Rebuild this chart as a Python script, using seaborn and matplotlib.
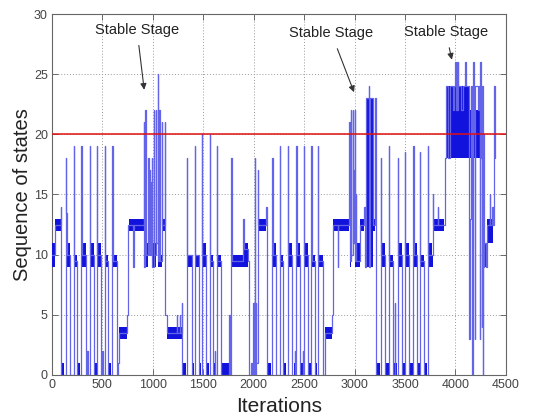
import matplotlib
matplotlib.use("Agg")
import matplotlib.pyplot as plt
import seaborn as sns
import pandas as pd

# ---------------- data ----------------
x_ticks = [0, 500, 1000, 1500, 2000, 2500, 3000, 3500, 4000, 4500]
y_ticks = [0, 5, 10, 15, 20, 25, 30]
threshold = 20
x_label = "Iterations"
y_label = "Sequence of states"
annotation_text = ["Stable Stage", "Stable Stage", "Stable Stage"]
annotation_text_xy = [(842, 28.7), (2770, 28.4), (3905, 28.5)]
annotation_tip_xy = [(914, 23.7), (2995, 23.5), (3965, 26.2)]

# state path, vertex by vertex (iteration, state)
seg_a = [(0, 10), (25, 10), (25, 12.5), (85, 12.5), (85, 14), (90, 14), (90, 0), (138, 0), (138, 18),
         (142, 18), (142, 13.5), (146, 13.5), (146, 10), (182, 10), (182, 0), (215, 0), (215, 19), (219, 19),
         (219, 9.5), (246, 9.5), (246, 0), (290, 0), (290, 19), (294, 19), (294, 10), (335, 10), (335, 0),
         (350, 0), (350, 2), (355, 2), (355, 0), (372, 0), (372, 19), (376, 19), (376, 10), (418, 10),
         (418, 0), (446, 0), (446, 19), (450, 19), (450, 10), (484, 10), (484, 0), (500, 0), (500, 2),
         (504, 2), (504, 0), (522, 0), (522, 19), (526, 19), (526, 9.5), (556, 9.5), (556, 0), (596, 0),
         (596, 19), (600, 19), (600, 9.5), (640, 9.5), (640, 0), (655, 0), (655, 1), (660, 1), (660, 3.5),
         (745, 3.5), (745, 5), (758, 5), (758, 12.5), (805, 12.5), (805, 9), (810, 9), (810, 12.5),
         (912, 12.5)]
seg_b = [(912, 21), (916, 21), (916, 9), (922, 9), (922, 22), (927, 22), (927, 10), (954, 10),
         (954, 18), (958, 18), (958, 10), (965, 10), (965, 17), (970, 17), (970, 10), (976, 10), (976, 16),
         (980, 16), (980, 10), (990, 10), (990, 18), (994, 18), (994, 9), (1010, 9), (1010, 22),
         (1014, 22), (1014, 10), (1030, 10), (1030, 22), (1034, 22), (1034, 11), (1046, 11), (1046, 25),
         (1050, 25), (1050, 9.5), (1062, 9.5), (1062, 22), (1066, 22), (1066, 9.5), (1086, 9.5),
         (1086, 21), (1090, 21), (1090, 17), (1094, 17), (1094, 12.5), (1119, 12.5), (1119, 21),
         (1122, 21), (1122, 5)]
seg_c = [(1145, 5), (1145, 3.5), (1235, 3.5), (1235, 5), (1239, 5), (1239, 3.5), (1265, 3.5),
         (1265, 5), (1269, 5), (1269, 3.5), (1288, 3.5), (1288, 6), (1292, 6), (1292, 0), (1338, 0),
         (1338, 18), (1342, 18), (1342, 10), (1390, 10), (1390, 0), (1414, 0), (1414, 19), (1418, 19),
         (1418, 10), (1462, 10), (1462, 0), (1484, 0), (1484, 20), (1488, 20), (1488, 10), (1528, 10),
         (1528, 0), (1566, 0), (1566, 20), (1570, 20), (1570, 9.5), (1594, 9.5), (1594, 0), (1615, 0),
         (1615, 2), (1619, 2), (1619, 0), (1636, 0), (1636, 19), (1640, 19), (1640, 9.5), (1677, 9.5),
         (1677, 0), (1757, 0), (1757, 5), (1761, 5), (1761, 0), (1776, 0), (1776, 18), (1780, 18),
         (1780, 9.5), (1895, 9.5), (1895, 13), (1899, 13), (1899, 10.5), (1940, 10.5), (1940, 9.5),
         (1955, 9.5), (1955, 0)]
seg_d = [(1970, 0), (1970, 1), (1985, 1), (1985, 0), (1995, 0), (1995, 6), (1998, 6), (1998, 0),
         (2003, 0), (2003, 5), (2006, 5), (2006, 0), (2012, 0), (2012, 18), (2016, 18), (2016, 0),
         (2022, 0), (2022, 6), (2026, 6), (2026, 1), (2038, 1), (2038, 17), (2042, 17), (2042, 12.5),
         (2122, 12.5), (2122, 14), (2132, 14), (2132, 0)]
seg_e = [(2185, 0), (2185, 18), (2189, 18), (2189, 10), (2226, 10), (2226, 0), (2258, 0), (2258, 19),
         (2262, 19), (2262, 9.5), (2292, 9.5), (2292, 0), (2340, 0), (2340, 19), (2344, 19), (2344, 10),
         (2384, 10), (2384, 0), (2410, 0), (2410, 2), (2414, 2), (2414, 0), (2422, 0), (2422, 19),
         (2426, 19), (2426, 10), (2464, 10), (2464, 0), (2484, 0), (2484, 2), (2488, 2), (2488, 0),
         (2498, 0), (2498, 19), (2502, 19), (2502, 10), (2540, 10), (2540, 0), (2571, 0), (2571, 19),
         (2575, 19), (2575, 9.5), (2606, 9.5), (2606, 0), (2637, 0), (2637, 19), (2641, 19), (2641, 9.5),
         (2690, 9.5), (2690, 0), (2705, 0), (2705, 3.5), (2775, 3.5), (2775, 5), (2787, 5),
         (2787, 12.5), (2835, 12.5), (2835, 9), (2839, 9), (2839, 12.5), (2945, 12.5)]
seg_f = [(2948, 12.5), (2948, 21), (2952, 21), (2952, 9.5), (2960, 9.5), (2960, 22), (2964, 22),
         (2964, 18), (2968, 18), (2968, 10), (2980, 10), (2980, 22), (2985, 22), (2985, 11), (2992, 11),
         (2992, 17), (2995, 17), (2995, 11), (3002, 11), (3002, 22), (3006, 22), (3006, 9.5), (3012, 9.5),
         (3012, 15), (3015, 15), (3015, 9.5), (3050, 9.5), (3050, 12.5), (3096, 12.5), (3096, 14),
         (3106, 14), (3106, 9), (3116, 9), (3116, 23), (3140, 23), (3140, 24), (3145, 24), (3145, 9),
         (3150, 9), (3150, 23), (3180, 23), (3180, 12.5), (3205, 12.5), (3205, 23), (3211, 23), (3211, 0)]
seg_g = [(3259, 0), (3259, 18), (3263, 18), (3263, 10), (3304, 10), (3304, 0), (3341, 0), (3341, 19),
         (3345, 19), (3345, 9.5), (3380, 9.5), (3380, 0), (3400, 0), (3400, 6), (3404, 6), (3404, 0),
         (3427, 0), (3427, 18), (3431, 18), (3431, 10), (3469, 10), (3469, 0), (3500, 0), (3500, 18.5),
         (3504, 18.5), (3504, 10), (3535, 10), (3535, 0), (3582, 0), (3582, 19), (3586, 19), (3586, 10),
         (3624, 10), (3624, 0), (3648, 0), (3648, 18.5), (3652, 18.5), (3652, 9.5), (3690, 9.5),
         (3690, 0), (3724, 0), (3724, 19), (3728, 19), (3728, 10), (3776, 10), (3776, 15), (3780, 15),
         (3780, 12.5), (3823, 12.5), (3823, 14), (3827, 14), (3827, 12.5), (3895, 12.5), (3895, 18),
         (3905, 18)]
seg_h = [(3905, 24), (3930, 24), (3930, 18), (3950, 18), (3950, 24), (3975, 24), (3975, 22),
         (3990, 22), (3990, 24), (4000, 24), (4000, 26), (4004, 26), (4004, 22), (4012, 22), (4012, 26),
         (4016, 26), (4016, 22), (4024, 22), (4024, 26), (4028, 26), (4028, 24), (4060, 24), (4060, 22),
         (4080, 22), (4080, 24), (4100, 24), (4100, 26), (4106, 26), (4106, 24), (4130, 24), (4130, 22),
         (4139, 22), (4139, 3), (4145, 3), (4145, 13), (4150, 13), (4150, 24), (4165, 24), (4165, 0),
         (4172, 0), (4172, 26), (4180, 26), (4180, 20), (4190, 20), (4190, 3), (4196, 3), (4196, 24),
         (4220, 24), (4220, 22), (4230, 22), (4230, 24), (4240, 24), (4240, 3), (4246, 3), (4246, 26),
         (4254, 26), (4254, 18), (4262, 18), (4262, 4), (4266, 4), (4266, 24), (4270, 24), (4270, 0),
         (4276, 0), (4276, 20), (4285, 20), (4285, 9)]
seg_i = [(4285, 11), (4300, 11), (4300, 9), (4310, 9), (4310, 12.5), (4340, 12.5), (4340, 15),
         (4345, 15), (4345, 12.5), (4365, 12.5), (4365, 14), (4370, 14), (4370, 12.5), (4385, 12.5),
         (4385, 24), (4390, 24), (4390, 18)]

# dense (rapidly alternating) stretches: start, end, low state, high state
block_start = [0, 25, 95, 142, 222, 250, 297, 338, 378, 420, 452, 486, 528, 560, 602, 642, 662, 760,
               927, 994, 1050, 1094, 1145, 1296, 1342, 1392, 1418, 1464, 1488, 1531, 1570, 1597, 1640,
               1683, 1780, 1891, 2042, 2135, 2193, 2266, 2299, 2348, 2398, 2431, 2466, 2503, 2542, 2575,
               2608, 2645, 2710, 2787, 2952, 3008, 3050, 3116, 3182, 3221, 3263, 3306, 3345, 3383, 3436,
               3472, 3508, 3540, 3586, 3626, 3652, 3692, 3728, 3738, 3782, 3905, 3905, 4285, 4310]
block_end = [25, 85, 120, 182, 246, 280, 335, 368, 418, 444, 484, 510, 556, 582, 640, 655, 745, 910,
             954, 1030, 1086, 1119, 1288, 1330, 1390, 1412, 1462, 1482, 1528, 1561, 1594, 1627, 1677,
             1766, 1940, 1940, 2122, 2172, 2226, 2292, 2325, 2384, 2420, 2464, 2494, 2540, 2565, 2606,
             2632, 2688, 2775, 2945, 2966, 3050, 3096, 3180, 3205, 3257, 3304, 3338, 3380, 3420, 3469,
             3498, 3535, 3578, 3624, 3645, 3690, 3720, 3776, 3768, 3891, 4285, 4140, 4310, 4370]
block_lo = [9, 12, 0, 9, 9, 0, 9, 0, 9, 0, 9, 0, 9, 0, 9, 0, 3, 12,
            9, 9, 9, 12, 3, 0, 9, 0, 9, 0, 9, 0, 9, 0, 9,
            0, 9, 10, 12, 0, 9, 9, 0, 9, 0, 9, 0, 9, 0, 9,
            0, 9, 3, 12, 9, 9, 12, 9, 12, 0, 9, 0, 9, 0, 9,
            0, 9, 0, 9, 0, 9, 0, 9, 10, 12, 18, 22, 9, 11]
block_hi = [11, 13, 1, 11, 10, 1, 11, 1, 11, 1, 11, 1, 10, 1, 10, 1, 4, 13,
            11, 11, 10, 13, 4, 1, 10, 1, 10, 1, 11, 1, 10, 1, 10,
            1, 10, 11, 13, 1, 11, 10, 1, 11, 1, 11, 1, 11, 1, 10,
            1, 10, 4, 13, 11, 11, 13, 23, 13, 1, 11, 1, 10, 1, 11,
            1, 11, 1, 11, 1, 10, 1, 10, 11, 13, 22, 24, 11, 13]

# ---------------- drawing ----------------
sns.set_style("white")
plt.rcParams["font.family"] = ["Liberation Sans", "DejaVu Sans"]

vertices = seg_a + seg_b + seg_c + seg_d + seg_e + seg_f + seg_g + seg_h + seg_i
df = pd.DataFrame(vertices, columns=["iteration", "state"])

fig, ax = plt.subplots(figsize=(5.33, 4.18), dpi=100)
fig.subplots_adjust(left=0.0976, right=0.949, top=0.9665, bottom=0.1029)

line_col = "#6464e8"
dense_col = "#1212dd"

widths = [e - s for s, e in zip(block_start, block_end)]
heights = [h - l for l, h in zip(block_lo, block_hi)]
ax.bar(block_start, heights, width=widths, bottom=block_lo, align="edge",
       color=dense_col, linewidth=0, zorder=3)

sns.lineplot(data=df, x="iteration", y="state", sort=False, estimator=None,
             color=line_col, linewidth=0.9, ax=ax, zorder=4)

ax.axhline(threshold, color="#e01010", linewidth=1.1, zorder=5)

for txt, txy, tip in zip(annotation_text, annotation_text_xy, annotation_tip_xy):
    ax.annotate(txt, xy=tip, xytext=txy, ha="center", va="center", fontsize=10.5,
                color="#222222", zorder=6,
                arrowprops=dict(arrowstyle="-|>", color="#333333", lw=0.8,
                                mutation_scale=9, shrinkA=4, shrinkB=0))

ax.set_xlim(0, 4500)
ax.set_ylim(0, 30)
ax.set_xticks(x_ticks)
ax.set_yticks(y_ticks)
ax.set_xticklabels([str(v) for v in x_ticks], fontsize=9, color="#444444",
                   family=["Liberation Sans Narrow", "Liberation Sans"])
ax.set_yticklabels([str(v) for v in y_ticks], fontsize=9, color="#444444",
                   family=["Liberation Sans Narrow", "Liberation Sans"])
ax.tick_params(direction="in", length=4, width=0.6, color="#555555",
               top=True, right=True, bottom=True, left=True, pad=3)
ax.grid(True, linestyle=(0, (1, 2)), color="#9a9a9a", linewidth=0.7)
ax.set_axisbelow(True)
for sp in ax.spines.values():
    sp.set_color("#666666")
    sp.set_linewidth(0.8)

ax.set_xlabel(x_label, fontsize=15, color="#222222", labelpad=4)
ax.set_ylabel(y_label, fontsize=14.5, color="#222222", labelpad=1)

fig.savefig("out.png", dpi=100)
